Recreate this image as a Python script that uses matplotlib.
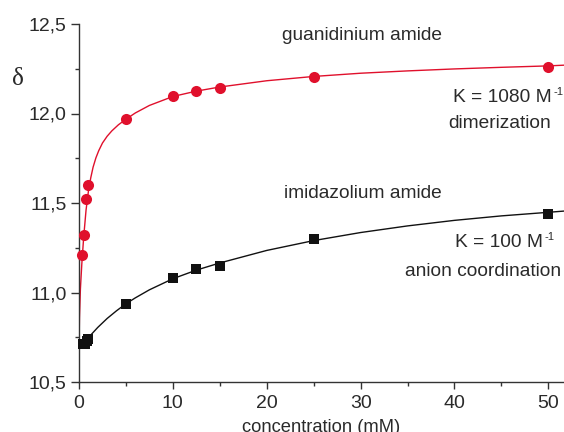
import matplotlib
matplotlib.use("Agg")
import matplotlib.pyplot as plt
from matplotlib.ticker import FixedLocator, FixedFormatter, MultipleLocator

# data points
guan_x = [0.35, 0.57, 0.75, 0.96, 5, 10, 12.5, 15, 25, 50]
guan_y = [11.21, 11.32, 11.52, 11.60, 11.97, 12.10, 12.127, 12.142, 12.205, 12.26]
imid_x = [0.4, 0.6, 0.8, 1.0, 5, 10, 12.5, 15, 25, 50]
imid_y = [10.71, 10.715, 10.73, 10.74, 10.935, 11.08, 11.133, 11.148, 11.298, 11.44]

# fitted curves
guan_fit_x = [0, 0.05, 0.15, 0.3, 0.5, 0.75, 1.0, 1.25, 1.5, 1.8, 2.1, 2.5, 3.0, 3.5,
              4.2, 5, 6, 7.5, 10, 12.5, 15, 20, 25, 30, 35, 40, 45, 50, 51.7]
guan_fit_y = [10.70, 10.86, 11.02, 11.16, 11.31, 11.46, 11.565, 11.64, 11.70, 11.752,
              11.792, 11.835, 11.873, 11.903, 11.937, 11.968, 12.003, 12.045, 12.095,
              12.125, 12.148, 12.183, 12.207, 12.225, 12.238, 12.249, 12.258, 12.266, 12.27]
imid_fit_x = [0, 0.5, 1, 2, 3, 4, 5, 6, 7.5, 10, 12.5, 15, 20, 25, 30, 35, 40, 45, 50, 51.7]
imid_fit_y = [10.70, 10.722, 10.748, 10.805, 10.855, 10.898, 10.937, 10.970, 11.015,
              11.077, 11.125, 11.165, 11.235, 11.29, 11.335, 11.372, 11.403, 11.428,
              11.448, 11.455]

x_ticks = [0, 10, 20, 30, 40, 50]
x_tick_labels = ["0", "10", "20", "30", "40", "50"]
y_ticks = [10.5, 11.0, 11.5, 12.0, 12.5]
y_tick_labels = ["10,5", "11,0", "11,5", "12,0", "12,5"]

RED = "#e0102c"
BLK = "#111111"
TC = "#2a2a2a"
plt.rcParams['font.family'] = ['Liberation Sans', 'DejaVu Sans']

fig = plt.figure(figsize=(5.64, 4.32), dpi=100)
ax = fig.add_axes([79/564, 50/432, 1 - 79/564, 358/432])

ax.plot(guan_fit_x, guan_fit_y, color=RED, lw=1.0, zorder=2)
ax.plot(imid_fit_x, imid_fit_y, color=BLK, lw=1.0, zorder=2)
ax.plot(guan_x, guan_y, 'o', color=RED, ms=8.0, mec=RED, mew=0, zorder=3, clip_on=False)
ax.plot(imid_x, imid_y, 's', color=BLK, ms=7.2, mew=0, zorder=3, clip_on=False)

ax.set_xlim(0, 51.67)
ax.set_ylim(10.5, 12.5)

for s in ["top", "right"]:
    ax.spines[s].set_visible(False)
for s in ["left", "bottom"]:
    ax.spines[s].set_linewidth(1.0)
    ax.spines[s].set_color("#333333")

ax.xaxis.set_major_locator(FixedLocator(x_ticks))
ax.xaxis.set_major_formatter(FixedFormatter(x_tick_labels))
ax.yaxis.set_major_locator(FixedLocator(y_ticks))
ax.yaxis.set_major_formatter(FixedFormatter(y_tick_labels))
ax.xaxis.set_minor_locator(MultipleLocator(5))
ax.yaxis.set_minor_locator(MultipleLocator(0.25))
ax.tick_params(which="major", direction="out", length=5, width=1.0, color="#333333",
               labelsize=14, labelcolor=TC)
ax.tick_params(which="minor", direction="out", length=3, width=1.0, color="#333333")
ax.tick_params(axis="y", which="major", length=6, pad=3)
ax.tick_params(axis="x", which="major", pad=4)

ax.set_xlabel("concentration (mM)", fontsize=13.2, color=TC, labelpad=5.3)
fig.text(17.5/564, 1 - 79/432, "δ", fontsize=18, family="Liberation Serif",
         ha="center", va="center", color=TC)

FS = 13.8
fig.text(362/564, 1 - 35/432, "guanidinium amide", fontsize=FS, ha="center", va="center", color=TC)
fig.text(551.5/564, 1 - 97/432, "K = 1080 M", fontsize=FS, ha="right", va="center", color=TC)
fig.text(553/564, 1 - 87/432, "-1", fontsize=8, ha="left", va="top", color=TC)
fig.text(500/564, 1 - 124/432, "dimerization", fontsize=FS, ha="center", va="center", color=TC)
fig.text(363/564, 1 - 194/432, "imidazolium amide", fontsize=FS, ha="center", va="center", color=TC)
fig.text(543/564, 1 - 242/432, "K = 100 M", fontsize=FS, ha="right", va="center", color=TC)
fig.text(544.5/564, 1 - 232/432, "-1", fontsize=8, ha="left", va="top", color=TC)
fig.text(483.5/564, 1 - 272/432, "anion coordination", fontsize=FS, ha="center", va="center", color=TC)

fig.savefig("out.png", dpi=100)
